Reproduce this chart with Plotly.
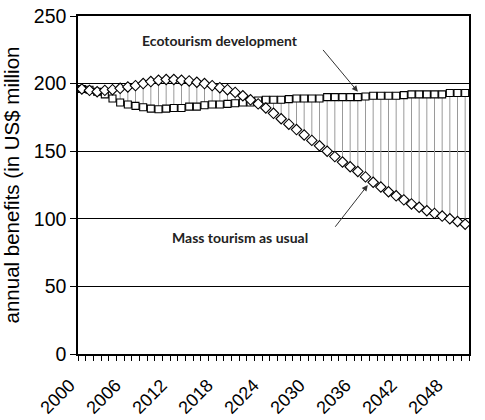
import plotly.graph_objects as go

years = list(range(2000, 2051))

ecotourism = [196, 195.5, 194, 192, 189, 186, 184.5, 183.5, 182.5, 181.5,
              181, 181.5, 182, 182, 183, 183, 184, 184.5, 184.5, 185,
              185.5, 186, 186, 187.5, 188, 188, 188, 188.5, 189, 189,
              189, 189, 190, 190, 190, 190, 190, 190.5, 191, 191,
              191, 191, 191.5, 192, 192, 192, 192, 192, 193, 193, 193]

mass_tourism = [196, 195, 194, 195, 195.5, 196.5, 197.5, 198.5, 200, 201.5,
                202.5, 203, 203, 202.5, 202, 201, 200, 198.5, 197, 195.5,
                193.5, 191, 188, 185, 182, 178, 174, 170, 166, 162,
                158, 154, 150, 146, 142, 138.5, 135, 131, 127, 123.5,
                120, 117, 114, 111, 108.5, 106, 104, 102, 100, 98, 96]

label_years = list(range(2000, 2051, 6))
y_ticks = [0, 50, 100, 150, 200, 250]

# high-low lines between the two series
hl_x, hl_y = [], []
for yr, e, m in zip(years, ecotourism, mass_tourism):
    hl_x += [yr, yr, None]
    hl_y += [e, m, None]

fig = go.Figure()
fig.add_trace(go.Scatter(x=hl_x, y=hl_y, mode="lines",
                         line=dict(color="#9a9a9a", width=1),
                         hoverinfo="skip", showlegend=False))
fig.add_trace(go.Scatter(x=years, y=ecotourism, mode="markers",
                         name="Ecotourism development",
                         marker=dict(symbol="square", size=7, color="white",
                                     line=dict(color="black", width=1.1)),
                         showlegend=False))
fig.add_trace(go.Scatter(x=years, y=mass_tourism, mode="markers",
                         name="Mass tourism as usual",
                         marker=dict(symbol="diamond", size=8, color="white",
                                     line=dict(color="black", width=1.1)),
                         showlegend=False))

fig.add_annotation(x=2018.0, y=232, text="<b>Ecotourism development</b>",
                   showarrow=False, font=dict(family="Lato", size=14, color="#222"))
fig.add_annotation(x=2020.6, y=86, text="<b>Mass tourism as usual</b>",
                   showarrow=False, font=dict(family="Lato", size=14, color="#222"))
fig.add_annotation(x=2036.0, y=194, ax=2031.3, ay=226, axref="x", ayref="y",
                   text="", showarrow=True, arrowhead=2, arrowsize=1.2,
                   arrowwidth=1, arrowcolor="#333")
fig.add_annotation(x=2037.3, y=125, ax=2032.9, ay=93, axref="x", ayref="y",
                   text="", showarrow=True, arrowhead=2, arrowsize=1.2,
                   arrowwidth=1, arrowcolor="#333")

fig.update_layout(
    width=485, height=420,
    margin=dict(l=78, r=16, t=16, b=66),
    plot_bgcolor="white", paper_bgcolor="white",
    font=dict(family="Liberation Sans, Arial", color="black"),
)
fig.update_xaxes(
    range=[1999.5, 2050.5], automargin=False,
    tickmode="array", tickvals=label_years, ticktext=[str(v) for v in label_years],
    tickangle=-45, tickfont=dict(size=18),
    ticklabelstandoff=12, ticklabelshift=-12,
    ticks="", showgrid=False, zeroline=False,
    showline=True, linecolor="black", linewidth=1.5, mirror=True,
    minor=dict(tickmode="linear", tick0=1999.5, dtick=1, ticks="outside",
               ticklen=5, tickcolor="black", tickwidth=1, showgrid=False),
)
fig.update_yaxes(
    range=[0, 250], tickmode="array", tickvals=y_ticks, automargin=False,
    tickfont=dict(size=19.5), ticks="outside", ticklen=6, tickcolor="black",
    showgrid=True, gridcolor="black", gridwidth=1.2, zeroline=False,
    showline=True, linecolor="black", linewidth=1.5, mirror=True,
    title=dict(text="annual benefits (in US$ million", font=dict(size=20.5), standoff=10),
)

fig.write_html("out.html")
